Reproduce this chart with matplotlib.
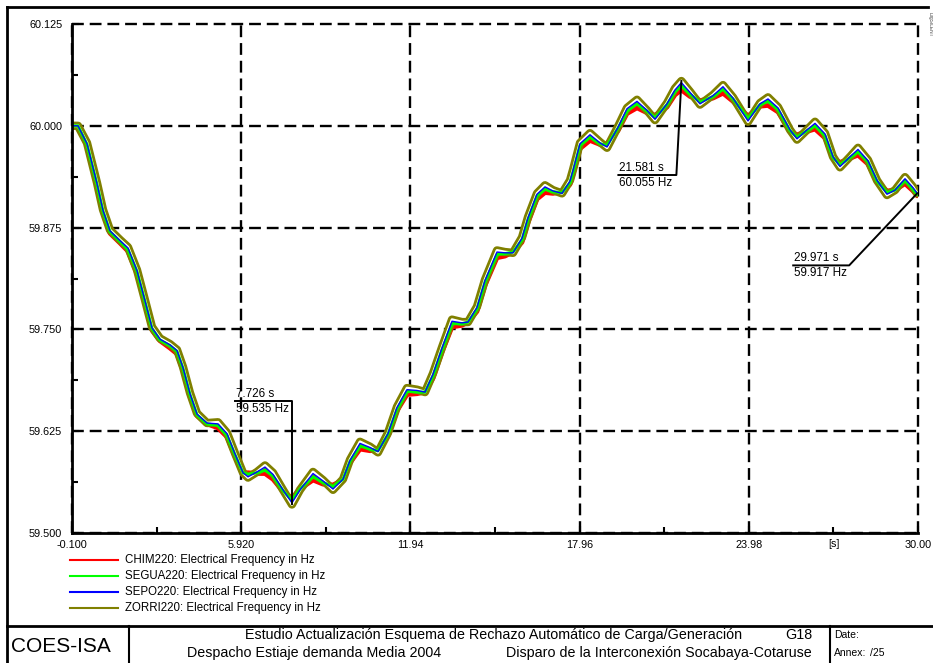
"""
Frequency response after the Socabaya-Cotaruse interconnection trip.

Draws the electrical frequency at four 220 kV buses with cursor readouts
and the report title block underneath. Saved as out.png.
"""

import matplotlib

matplotlib.use("Agg")  # headless backend
import matplotlib.pyplot as plt
from matplotlib.lines import Line2D

plt.rcParams["font.family"] = ["Liberation Sans", "DejaVu Sans"]

W, H = 933, 663

# -----------------------------------------------------------------------
# Simulation results (time in s, frequency in Hz)
# -----------------------------------------------------------------------

time_s = [
    -0.100, 0.113, 0.434, 0.789, 1.003, 1.252, 1.608, 1.892, 2.213, 2.497,
    2.746, 3.031, 3.387, 3.636, 3.849, 4.098, 4.347, 4.703, 5.095, 5.415,
    5.699, 5.984, 6.162, 6.482, 6.767, 7.051, 7.407, 7.726, 8.012, 8.475,
    8.830, 9.186, 9.542, 9.791, 10.147, 10.503, 10.787, 11.143, 11.463, 11.819,
    12.175, 12.459, 12.744, 13.064, 13.420, 13.776, 13.989, 14.309, 14.594, 15.021,
    15.306, 15.590, 15.911, 16.124, 16.444, 16.729, 17.013, 17.334, 17.618, 17.725,
    17.974, 18.330, 18.686, 18.935, 19.326, 19.646, 20.002, 20.358, 20.643, 21.070,
    21.354, 21.581, 21.888, 22.244, 22.706, 23.062, 23.418, 23.952, 24.379, 24.663,
    25.019, 25.446, 25.695, 26.051, 26.336, 26.691, 26.976, 27.225, 27.581, 27.865,
    28.221, 28.541, 28.897, 29.182, 29.538, 29.823, 29.971,
]

chim220 = [
    60.000, 60.000, 59.975, 59.926, 59.893, 59.868, 59.856, 59.846, 59.818, 59.782,
    59.749, 59.736, 59.727, 59.720, 59.699, 59.668, 59.644, 59.634, 59.629, 59.618,
    59.594, 59.574, 59.574, 59.573, 59.573, 59.566, 59.551, 59.543, 59.554, 59.565,
    59.560, 59.559, 59.565, 59.586, 59.603, 59.601, 59.602, 59.619, 59.650, 59.670,
    59.671, 59.673, 59.690, 59.722, 59.753, 59.755, 59.759, 59.772, 59.804, 59.838,
    59.840, 59.845, 59.857, 59.881, 59.910, 59.918, 59.917, 59.919, 59.928, 59.940,
    59.972, 59.982, 59.977, 59.978, 59.994, 60.015, 60.022, 60.016, 60.013, 60.023,
    60.038, 60.044, 60.036, 60.031, 60.034, 60.040, 60.030, 60.012, 60.024, 60.025,
    60.017, 59.993, 59.989, 59.993, 59.996, 59.985, 59.960, 59.955, 59.960, 59.964,
    59.953, 59.931, 59.920, 59.921, 59.929, 59.920, 59.914,
]

segua220 = [
    60.000, 60.000, 59.977, 59.928, 59.895, 59.870, 59.858, 59.848, 59.821, 59.784,
    59.751, 59.737, 59.730, 59.723, 59.702, 59.670, 59.645, 59.634, 59.632, 59.620,
    59.596, 59.574, 59.572, 59.574, 59.577, 59.570, 59.552, 59.540, 59.554, 59.569,
    59.562, 59.557, 59.566, 59.588, 59.607, 59.603, 59.601, 59.621, 59.652, 59.674,
    59.673, 59.673, 59.693, 59.725, 59.757, 59.757, 59.759, 59.775, 59.808, 59.842,
    59.843, 59.845, 59.860, 59.885, 59.914, 59.922, 59.919, 59.918, 59.930, 59.943,
    59.976, 59.986, 59.978, 59.976, 59.997, 60.018, 60.027, 60.018, 60.010, 60.026,
    60.042, 60.049, 60.039, 60.029, 60.036, 60.045, 60.033, 60.009, 60.026, 60.030,
    60.020, 59.994, 59.986, 59.994, 60.000, 59.988, 59.961, 59.952, 59.961, 59.968,
    59.956, 59.932, 59.918, 59.921, 59.933, 59.922, 59.916,
]

sepo220 = [
    60.000, 60.000, 59.978, 59.929, 59.896, 59.871, 59.859, 59.850, 59.822, 59.785,
    59.752, 59.738, 59.731, 59.724, 59.703, 59.671, 59.646, 59.635, 59.634, 59.622,
    59.597, 59.574, 59.569, 59.575, 59.581, 59.572, 59.553, 59.537, 59.553, 59.573,
    59.564, 59.554, 59.566, 59.589, 59.610, 59.605, 59.600, 59.622, 59.654, 59.676,
    59.675, 59.673, 59.695, 59.727, 59.760, 59.758, 59.759, 59.777, 59.810, 59.845,
    59.844, 59.844, 59.862, 59.887, 59.916, 59.925, 59.920, 59.917, 59.932, 59.945,
    59.978, 59.989, 59.979, 59.974, 59.998, 60.021, 60.030, 60.019, 60.008, 60.027,
    60.044, 60.053, 60.041, 60.027, 60.037, 60.048, 60.034, 60.006, 60.027, 60.033,
    60.022, 59.995, 59.984, 59.995, 60.003, 59.990, 59.962, 59.950, 59.962, 59.971,
    59.957, 59.933, 59.916, 59.921, 59.935, 59.924, 59.917,
]

zorri220 = [
    60.000, 60.000, 59.979, 59.930, 59.897, 59.872, 59.860, 59.851, 59.823, 59.786,
    59.753, 59.739, 59.732, 59.725, 59.704, 59.672, 59.647, 59.635, 59.636, 59.623,
    59.598, 59.574, 59.568, 59.575, 59.583, 59.574, 59.553, 59.535, 59.553, 59.575,
    59.565, 59.553, 59.566, 59.590, 59.612, 59.606, 59.599, 59.623, 59.655, 59.678,
    59.676, 59.673, 59.696, 59.728, 59.762, 59.759, 59.759, 59.778, 59.811, 59.847,
    59.845, 59.844, 59.863, 59.888, 59.917, 59.927, 59.921, 59.917, 59.933, 59.946,
    59.979, 59.991, 59.980, 59.973, 59.999, 60.022, 60.032, 60.019, 60.007, 60.028,
    60.046, 60.055, 60.042, 60.026, 60.038, 60.050, 60.035, 60.005, 60.028, 60.035,
    60.023, 59.995, 59.983, 59.995, 60.005, 59.991, 59.962, 59.949, 59.962, 59.973,
    59.958, 59.933, 59.915, 59.921, 59.937, 59.925, 59.917,
]

series_labels = [
    "CHIM220: Electrical Frequency in Hz",
    "SEGUA220: Electrical Frequency in Hz",
    "SEPO220: Electrical Frequency in Hz",
    "ZORRI220: Electrical Frequency in Hz",
]
series_colors = ["#ff0000", "#00ff00", "#0000ff", "#808000"]

x_ticks = [-0.100, 5.920, 11.94, 17.96, 23.98, 30.00]
x_tick_labels = ["-0.100", "5.920", "11.94", "17.96", "23.98", "30.00"]
y_ticks = [59.500, 59.625, 59.750, 59.875, 60.000, 60.125]

# cursor readouts: (time, frequency, elbow offset px, leader length px)
cursors = [
    (7.726, 59.535, (0, 103), 57),
    (21.581, 60.055, (-5, -94), 58),
    (29.971, 59.917, (-68, -72), 56),
]

# -----------------------------------------------------------------------
# Figure and diagram axes
# -----------------------------------------------------------------------

fig = plt.figure(figsize=(W / 100, H / 100), dpi=100)
ax = fig.add_axes([72 / W, 1 - 533 / H, (918 - 72) / W, (533 - 24) / H])

line_kw = dict(solid_joinstyle="round", solid_capstyle="round")
ax.plot(time_s, chim220, color=series_colors[0], linewidth=3.4, zorder=3, **line_kw)
ax.plot(time_s, zorri220, color=series_colors[3], linewidth=6.0, zorder=4, **line_kw)
ax.plot(time_s, zorri220, color="white", linewidth=2.0, zorder=5, **line_kw)
ax.plot(time_s, segua220, color=series_colors[1], linewidth=2.2, zorder=6, **line_kw)
ax.plot(time_s, sepo220, color=series_colors[2], linewidth=1.0, zorder=7, **line_kw)

ax.set_xlim(-0.100, 30.00)
ax.set_ylim(59.500, 60.125)
ax.set_xticks(x_ticks)
ax.set_xticklabels(x_tick_labels)
ax.set_yticks(y_ticks)
ax.set_yticklabels([f"{v:.3f}" for v in y_ticks])
ax.set_xticks([(a + b) / 2 for a, b in zip(x_ticks[:-1], x_ticks[1:])], minor=True)
ax.set_yticks([(a + b) / 2 for a, b in zip(y_ticks[:-1], y_ticks[1:])], minor=True)

ax.tick_params(which="both", direction="in", width=1.5, labelsize=7.8,
               top=False, right=False)
ax.tick_params(which="major", length=5)
ax.tick_params(which="minor", length=4)
ax.tick_params(axis="y", pad=7)
ax.tick_params(axis="x", pad=5)

ax.grid(True, which="major", color="black", linestyle=(0, (5, 2.5)), linewidth=1.7)
for gl in ax.get_xgridlines() + ax.get_ygridlines():
    gl.set_clip_on(False)
ax.set_axisbelow(True)

for side in ("top", "right"):
    ax.spines[side].set_visible(False)
for side in ("left", "bottom"):
    ax.spines[side].set_linewidth(2)
    ax.spines[side].set_zorder(8)

ax.text((834 - 72) / 846, -0.012, "[s]", transform=ax.transAxes,
        ha="center", va="top", fontsize=7.8)

# cursor readouts with leader lines
fig.canvas.draw()
for t, f, (dx, dy), length in cursors:
    px, py = ax.transData.transform((t, f))
    ex, ey = px + dx, py + dy
    fig.add_artist(Line2D([ex - length, ex, px], [ey, ey, py], transform=None,
                          color="black", linewidth=1.4, zorder=9))
    fig.text((ex - length + 1) / W, (ey + 1.5) / H, f"{t:.3f} s",
             ha="left", va="bottom", fontsize=8.4, zorder=9)
    fig.text((ex - length + 1) / W, (ey - 1.5) / H, f"{f:.3f} Hz",
             ha="left", va="top", fontsize=8.4, zorder=9)

# -----------------------------------------------------------------------
# Legend
# -----------------------------------------------------------------------

for i, (label, color) in enumerate(zip(series_labels, series_colors)):
    y = 1 - (560 + 16 * i) / H
    fig.add_artist(Line2D([70 / W, 118 / W], [y, y], color=color, linewidth=1.5))
    fig.text(125 / W, y, label, ha="left", va="center", fontsize=8.3)

# -----------------------------------------------------------------------
# Page frame and title block
# -----------------------------------------------------------------------

def fig_line(xs, ys, lw=1.5):
    fig.add_artist(Line2D([x / W for x in xs], [1 - y / H for y in ys],
                          color="black", linewidth=lw))


fig_line([7, 7], [7, H], lw=2)
fig_line([7, 928], [7, 7], lw=2)
fig_line([7, W], [626, 626], lw=2)
fig_line([129, 129], [626, H], lw=1.5)
fig_line([830, 830], [626, H], lw=1.5)

fig.text(11 / W, 1 - 646 / H, "COES-ISA", ha="left", va="center", fontsize=15)
fig.text(494 / W, 1 - 635 / H,
         "Estudio Actualización Esquema de Rechazo Automático de Carga/Generación",
         ha="center", va="center", fontsize=10.3)
fig.text(812 / W, 1 - 635 / H, "G18", ha="right", va="center", fontsize=10.3)
fig.text(314 / W, 1 - 653 / H, "Despacho Estiaje demanda Media 2004",
         ha="center", va="center", fontsize=10.3)
fig.text(812 / W, 1 - 653 / H, "Disparo de la Interconexión Socabaya-Cotaruse",
         ha="right", va="center", fontsize=10.3)
fig.text(834 / W, 1 - 635 / H, "Date:", ha="left", va="center", fontsize=7.5)
fig.text(834 / W, 1 - 653 / H, "Annex:", ha="left", va="center", fontsize=7.5)
fig.text(870 / W, 1 - 653 / H, "/25", ha="left", va="center", fontsize=7.5)

fig.text(930 / W, 1 - 24 / H, "DIgSILENT", ha="center", va="center",
         rotation=270, fontsize=3.5, color="#444444")

fig.savefig("out.png", dpi=100)
